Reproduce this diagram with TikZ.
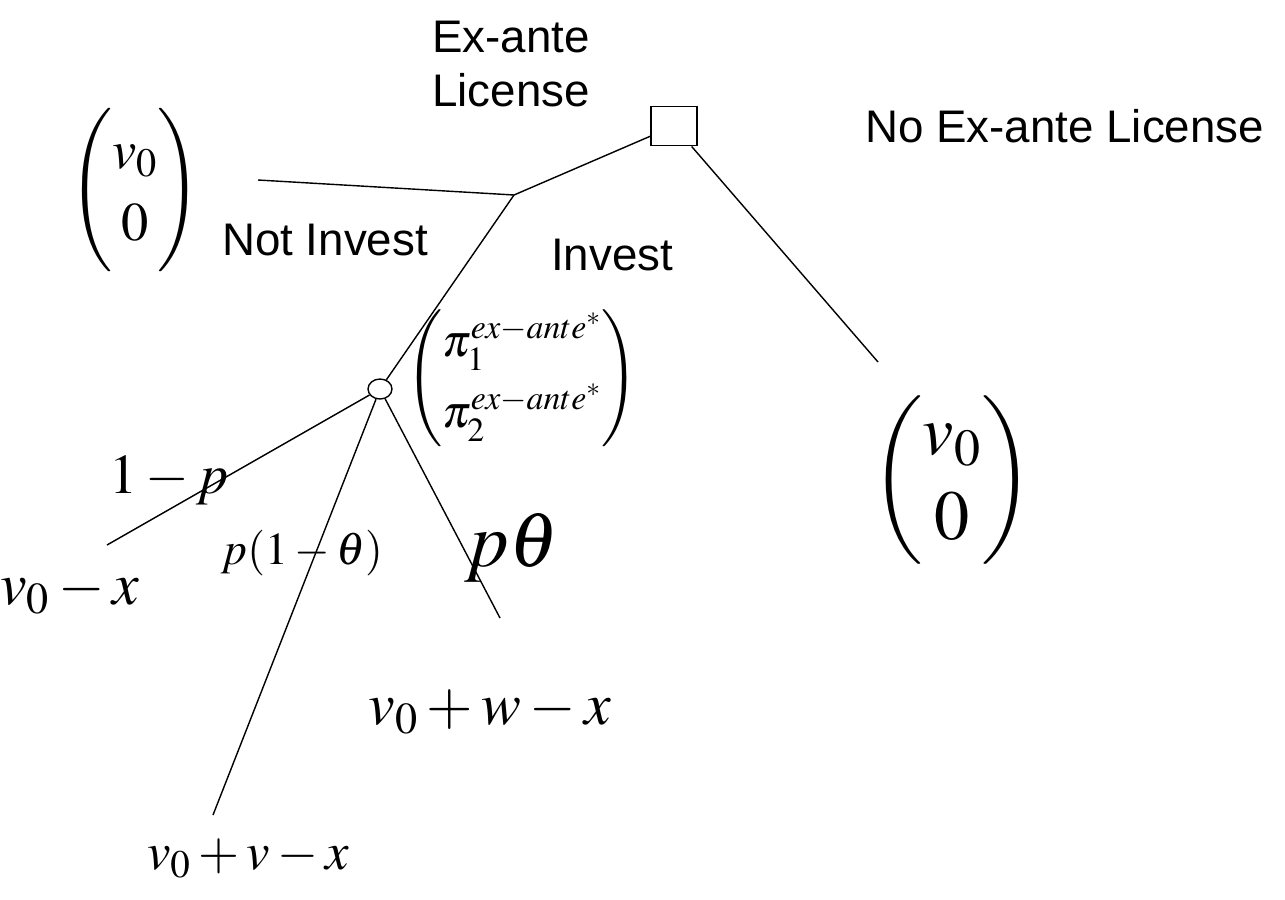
\documentclass[tikz,border=0pt]{standalone}
\usepackage{amsmath}
\usepackage{mathptmx}
\usepackage{fontspec}
\setmainfont{Liberation Sans}
\usetikzlibrary{shapes.geometric}
\tikzset{
  lbl/.style={font=\fontsize{26}{31}\selectfont, inner sep=0pt, align=center},
  mth/.style={inner sep=0pt},
  br/.style={draw, line width=0.8pt},
  sqbox/.style={draw, line width=1.1pt, minimum width=9.2mm, minimum height=7.8mm, inner sep=0pt},
  chance/.style={draw, ellipse, line width=0.8pt, minimum width=4.8mm, minimum height=4mm, inner sep=0pt},
}
\newcommand{\exa}{ex-ante{}^{*}}

\begin{document}
\begin{tikzpicture}
  \useasboundingbox (0,0) rectangle (25.7,-17.98);
  % decision nodes
  \node[sqbox] (sq) at (13.48,-2.52) {};
  \coordinate (dec) at (10.28,-3.9);
  \node[chance] (ch) at (7.6,-7.78) {};
  % branch ends
  \coordinate (ni) at (5.16,-3.6);
  \coordinate (nl) at (17.56,-7.24);
  \coordinate (fl) at (2.14,-10.9);
  \coordinate (ok) at (4.26,-16.3);
  \coordinate (hi) at (10.0,-12.36);
  \draw[br] (sq) -- (dec);
  \draw[br] (dec) -- (ni);
  \draw[br] (dec) -- (ch);
  \draw[br] (sq) -- (nl);
  \draw[br] (ch) -- (fl);
  \draw[br] (ch) -- (ok);
  \draw[br] (ch) -- (hi);
  % labels
  \node[lbl] (exl) at (10.22,-1.28) {Ex-ante\\License};
  \node[lbl, anchor=west] (nox) at (17.3,-2.52) {No Ex-ante License};
  \node[lbl] (notinv) at (6.5,-4.8) {Not Invest};
  \node[lbl] (inv) at (12.24,-5.1) {Invest};
  % payoffs
  \node[mth, font=\fontsize{31}{37}\selectfont] (pl) at (2.7,-3.8) {\def\arraystretch{1.12}$\begin{pmatrix} v_0\\ 0\end{pmatrix}$};
  \node[mth, font=\fontsize{40}{48}\selectfont] (pr) at (19.04,-9.6) {$\begin{pmatrix} v_0\\ 0\end{pmatrix}$};
  \node[mth, font=\fontsize{26}{31}\selectfont] (ppi) at (10.44,-7.56) {\def\arraystretch{1.3}$\begin{pmatrix} \pi_1^{\exa}\\ \pi_2^{\exa}\end{pmatrix}$};
  \node[mth, font=\fontsize{32}{38}\selectfont] (pa) at (3.38,-9.6) {$1-p$};
  \node[mth, font=\fontsize{34}{40}\selectfont] (va) at (1.4,-11.84) {$v_0-x$};
  \node[mth, font=\fontsize{26}{31}\selectfont] (pb) at (6.04,-11.06) {$p(1-\theta)$};
  \node[mth, font=\fontsize{44}{52}\selectfont] (pc) at (10.24,-10.96) {$p\theta$};
  \node[mth, font=\fontsize{34}{40}\selectfont] (vc) at (9.8,-14.24) {$v_0+w-x$};
  \node[mth, font=\fontsize{30}{36}\selectfont] (vb) at (4.96,-17.16) {$v_0+v-x$};
\end{tikzpicture}
\end{document}
